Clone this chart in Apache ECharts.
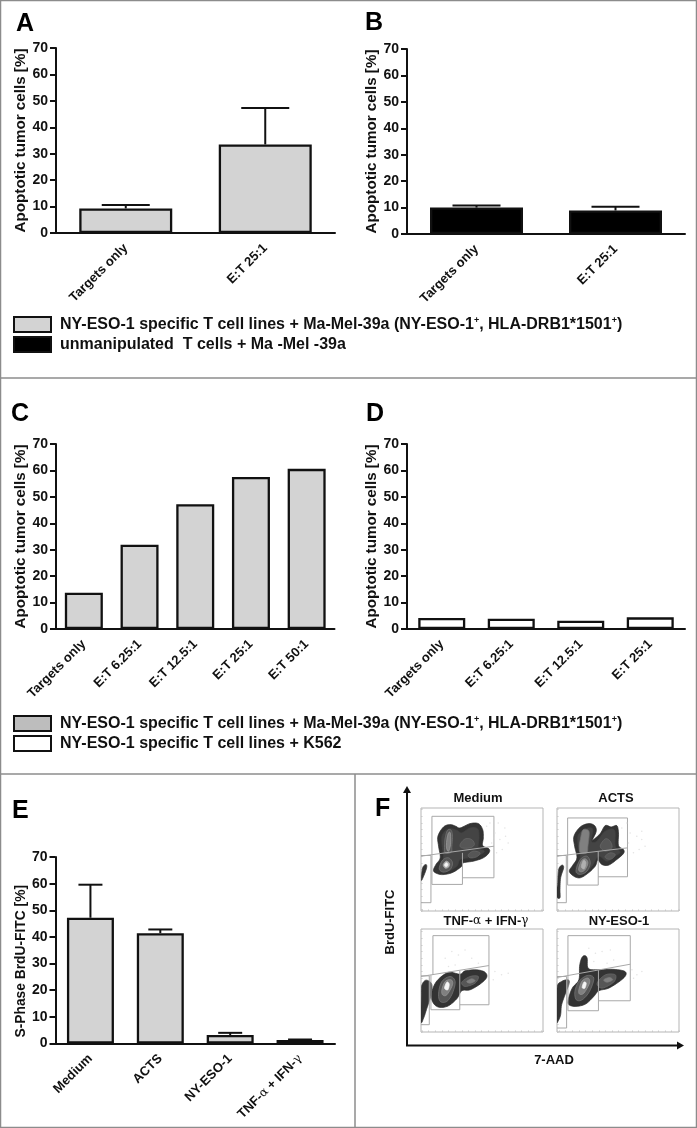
<!DOCTYPE html>
<html><head><meta charset="utf-8">
<style>html,body{margin:0;padding:0;background:#fff}#c{width:697px;height:1128px}</style>
<script src="https://cdn.jsdelivr.net/npm/echarts@6/dist/echarts.min.js"></script>
</head><body><div id="c"></div>
<script>
// ---------- bar data ----------
const catsAB = ['Targets only', 'E:T 25:1'];
const catsC = ['Targets only', 'E:T 6.25:1', 'E:T 12.5:1', 'E:T 25:1', 'E:T 50:1'];
const catsD = ['Targets only', 'E:T 6.25:1', 'E:T 12.5:1', 'E:T 25:1'];
const catsE = ['Medium', 'ACTS', 'NY-ESO-1', 'TNF-α + IFN-γ'];
const valA = [9.3, 33.5];
const errA = [10.6, 47.3];
const valB = [10, 8.9];
const errB = [10.8, 10.3];
const valC = [13.7, 31.9, 47.2, 57.5, 60.6];
const valD = [4.2, 3.9, 3.1, 4.4];
const valE = [47.2, 41.4, 3.2, 1.3];
const errE = [59.6, 42.8, 4.0, 1.5];
const yTitleApoptosis = 'Apoptotic tumor cells [%]';
const yTitleSPhase = 'S-Phase BrdU-FITC [%]';
const nameSpecificMel = 'NY-ESO-1 specific T cell lines + Ma-Mel-39a (NY-ESO-1+, HLA-DRB1*1501+)';
const nameUnmanipulated = 'unmanipulated  T cells + Ma -Mel -39a';
const nameSpecificK562 = 'NY-ESO-1 specific T cell lines + K562';

// ---------- flow cytometry contours (7-AAD channel, BrdU channel) ----------
const medOuter = [[55,205],[62,185],[75,165],[70,130],[68,100],[85,72],[105,65],[122,70],[135,75],[165,62],[190,62],[203,80],[205,105],[203,128],[222,138],[222,150],[205,165],[175,175],[145,180],[140,190],[120,205],[100,213],[75,215]];
const medBody = [[78,190],[85,165],[80,120],[82,95],[100,78],[125,82],[140,90],[165,75],[188,78],[192,105],[190,135],[208,145],[190,158],[160,165],[135,170],[125,190],[100,203]];
const medRing = [[72,198],[82,172],[100,165],[112,180],[105,200],[85,208]];
const medStreak = [[90,105],[97,82],[108,82],[112,100],[110,130],[108,148],[90,150],[88,125]];
const medStreak2 = [[95,110],[100,90],[106,92],[106,125],[100,145],[94,135]];
const medLumpA = [[135,125],[150,108],[170,110],[178,125],[165,135],[140,135]];
const medLumpB = [[160,155],[175,145],[195,150],[185,162],[165,165]];
const medSpot = [[84,186],[93,175],[103,182],[100,193],[90,196]];
const medCore = [[88,186],[93,180],[98,184],[96,190],[91,191]];
const medLeft = [[18,232],[22,195],[32,185],[34,195],[25,220]];
const medDots = [[215,70],[240,90],[255,110],[270,75],[230,120],[262,140],[245,150],[280,120],[225,60],[250,60],[272,100],[238,105]];

const actOuter = [[52,205],[62,188],[75,165],[68,130],[66,100],[85,72],[110,62],[128,68],[133,85],[122,110],[125,110],[145,92],[160,68],[178,72],[195,68],[200,90],[200,128],[215,140],[215,152],[195,170],[170,187],[150,185],[138,172],[130,190],[110,210],[85,225],[65,220]];
const actBody = [[72,195],[85,165],[78,120],[80,95],[100,78],[122,78],[118,115],[135,115],[160,85],[188,82],[190,130],[205,148],[185,162],[165,175],[140,160],[120,190],[95,212]];
const actRing = [[72,205],[85,170],[105,160],[115,180],[105,205],[85,215]];
const actStreak = [[85,110],[92,82],[105,80],[112,90],[108,130],[105,150],[85,150],[82,130]];
const actLumpA = [[145,130],[160,108],[175,115],[180,135],[160,145]];
const actLumpB = [[160,160],[175,150],[190,155],[180,168],[165,168]];
const actSpot = [[80,200],[88,175],[100,168],[108,180],[100,200],[88,207]];
const actCore = [[88,192],[95,172],[102,180],[97,198]];
const actLeft = [[17,245],[20,200],[30,187],[35,195],[26,225],[24,260],[24,285],[15,283],[15,255]];
const actDots = [[210,75],[235,90],[255,100],[270,85],[230,120],[262,140],[245,150],[280,130],[225,60],[270,110]];

const tnfOuter = [[50,200],[62,172],[85,150],[105,142],[135,148],[150,138],[185,135],[210,142],[215,158],[195,178],[165,195],[140,198],[125,222],[100,243],[75,248],[58,240],[48,220]];
const tnfLeft = [[17,290],[18,210],[20,180],[32,166],[48,175],[50,195],[45,220],[35,250],[25,280]];
const tnfMid = [[70,205],[80,170],[105,155],[120,170],[112,205],[95,230],[75,230]];
const tnfInner = [[80,195],[90,170],[108,165],[112,180],[95,210],[82,210]];
const tnfSpot = [[88,190],[95,172],[102,178],[98,195]];
const tnfLumpA = [[140,172],[165,155],[190,155],[180,175],[150,185]];
const tnfLumpB = [[155,170],[170,162],[180,168],[165,175]];
const tnfDots = [[90,100],[110,80],[130,90],[150,75],[170,100],[120,120],[100,125],[190,115],[240,140],[260,150],[280,145],[235,165]];

const nyOuter = [[48,225],[60,190],[80,165],[82,125],[88,100],[97,92],[105,100],[108,130],[135,135],[175,133],[215,138],[222,150],[205,168],[170,190],[140,198],[125,215],[100,238],[70,245],[50,240]];
const nyLeft = [[14,285],[14,190],[28,170],[48,165],[50,178],[40,205],[28,240],[25,270],[18,288]];
const nyMid = [[68,200],[80,170],[105,152],[125,160],[112,200],[90,225],[72,225]];
const nyInner = [[80,195],[90,168],[108,160],[112,175],[95,205],[82,208]];
const nySpot = [[90,188],[95,172],[102,175],[98,190]];
const nyLumpA = [[135,175],[160,150],[190,150],[185,172],[150,190]];
const nyLumpB = [[155,165],[172,158],[182,165],[165,172]];
const nyDots = [[110,70],[130,85],[150,80],[175,75],[185,105],[125,110],[165,115],[240,135],[255,150],[270,140],[245,160]];

// ---------- gates: polylines in the same channels ----------
const medGates = [[[50,158],[50,40],[237,40],[237,225],[142,225]], [[17,160],[237,130]], [[50,158],[50,245],[142,245],[142,150]], [[17,158],[47,158],[47,300],[17,300]]];
const actGates = [[[47,156],[47,45],[227,45],[227,222],[139,222]], [[15,160],[227,135]], [[47,156],[47,247],[139,247],[139,145]], [[15,158],[43,158],[43,300],[15,300]]];
const tnfGates = [[[53,150],[53,32],[222,32],[222,240],[134,240]], [[17,155],[222,122]], [[47,151],[47,255],[134,255],[134,138]], [[17,153],[42,153],[42,300],[17,300]]];
const nyGates = [[[47,152],[47,32],[235,32],[235,228],[139,228]], [[14,158],[235,118]], [[47,152],[47,258],[139,258],[139,136]], [[14,155],[43,155],[43,310],[14,310]]];

const FONT = '"Liberation Sans", Arial, sans-serif';
const INK = '#111';
const grids = [], xAxes = [], yAxes = [], series = [];

function tnfLabel(v) {
  return v.replace(/α/g, '{g|α}').replace(/γ/g, '{g|γ}');
}
function barPanel(o) {
  const i = grids.length;
  grids.push({left: o.x0, top: o.y70, width: o.x1 - o.x0, height: o.y0 - o.y70});
  xAxes.push({
    type: 'category', gridIndex: i, data: o.cats,
    axisLine: {lineStyle: {color: INK, width: 2}},
    axisTick: {alignWithLabel: true, length: 5, lineStyle: {color: INK, width: 2}},
    axisLabel: {rotate: 45, interval: 0, margin: 13, color: INK, fontFamily: FONT, fontWeight: 'bold', fontSize: 13,
      formatter: tnfLabel,
      rich: {g: {fontFamily: '"DejaVu Serif", serif', fontWeight: 'normal', fontSize: 12, color: INK}}}
  });
  yAxes.push({
    type: 'value', gridIndex: i, min: 0, max: 70, interval: 10,
    name: o.title, nameLocation: 'middle', nameGap: o.nameGap,
    nameTextStyle: {color: INK, fontFamily: FONT, fontWeight: 'bold', fontSize: o.nameSize, padding: o.namePad || 0},
    axisLine: {show: true, lineStyle: {color: INK, width: 2}},
    axisTick: {show: true, length: 6, lineStyle: {color: INK, width: 2}},
    axisLabel: {margin: 8, color: INK, fontFamily: FONT, fontWeight: 'bold', fontSize: 14},
    splitLine: {show: false}
  });
  series.push({
    type: 'bar', name: o.name, xAxisIndex: i, yAxisIndex: i, data: o.vals, barWidth: o.barW,
    itemStyle: {color: o.fill, borderColor: INK, borderWidth: 2.3}, silent: true
  });
  if (o.errs) {
    const capHalf = o.cap;
    series.push({
      type: 'custom', xAxisIndex: i, yAxisIndex: i, silent: true, z: 1,
      data: o.errs.map((e, k) => [k, e, o.vals[k]]),
      encode: {x: 0, y: 1},
      renderItem(params, api) {
        const top = api.coord([api.value(0), api.value(1)]);
        const base = api.coord([api.value(0), api.value(2)]);
        return {type: 'group', children: [
          {type: 'line', shape: {x1: top[0], y1: top[1], x2: base[0], y2: base[1]}, style: {stroke: INK, lineWidth: 2}},
          {type: 'line', shape: {x1: top[0] - capHalf, y1: top[1], x2: top[0] + capHalf, y2: top[1]}, style: {stroke: INK, lineWidth: 2}}
        ]};
      }
    });
  }
}
const GREY = '#d3d3d3';
barPanel({x0: 56, x1: 335, y70: 48, y0: 233, cats: catsAB, vals: valA, errs: errA, fill: GREY, barW: 93, cap: 24, title: yTitleApoptosis, name: nameSpecificMel, nameGap: 27, nameSize: 15.2});
barPanel({x0: 407, x1: 685, y70: 49, y0: 234, cats: catsAB, vals: valB, errs: errB, fill: '#000', barW: 93, cap: 24, title: yTitleApoptosis, name: nameUnmanipulated, nameGap: 27, nameSize: 15.2});
barPanel({x0: 56, x1: 334.5, y70: 444, y0: 629, cats: catsC, vals: valC, fill: GREY, barW: 38, title: yTitleApoptosis, name: nameSpecificMel, nameGap: 27, nameSize: 15.2});
barPanel({x0: 407, x1: 685, y70: 444, y0: 629, cats: catsD, vals: valD, fill: '#fff', barW: 47, title: yTitleApoptosis, name: nameSpecificK562, nameGap: 27, nameSize: 15.2});
barPanel({x0: 55.5, x1: 335, y70: 857, y0: 1043.5, cats: catsE, vals: valE, errs: errE, fill: GREY, barW: 47, cap: 12, title: yTitleSPhase, name: 'S-Phase', nameGap: 27, nameSize: 13.8, namePad: [0, 22, 0, 0]});

// ---------- flow panels ----------
// closed Catmull-Rom outline through the points (drawing only, in pixel space)
function spline(p) {
  const n = p.length, out = [];
  for (let i = 0; i < n; i++) {
    const a = p[(i + n - 1) % n], b = p[i], c = p[(i + 1) % n], d = p[(i + 2) % n];
    for (let k = 0; k < 6; k++) {
      const t = k / 6, t2 = t * t, t3 = t2 * t;
      out.push([0, 1].map(j => 0.5 * (2 * b[j] + (c[j] - a[j]) * t + (2 * a[j] - 5 * b[j] + 4 * c[j] - d[j]) * t2 + (3 * b[j] - a[j] - 3 * c[j] + d[j]) * t3)));
    }
  }
  return out;
}
function shape(i, pts, fill, stroke) {
  series.push({
    type: 'custom', xAxisIndex: i, yAxisIndex: i, silent: true, clip: true, data: pts, encode: {x: 0, y: 1},
    renderItem(params, api) {
      if (params.dataIndex > 0) return null;
      return {type: 'polygon', shape: {points: spline(pts.map(p => api.coord(p)))},
        style: {fill, stroke: stroke || fill, lineWidth: 0.7}};
    }
  });
}
function flowPanel(o) {
  const i = grids.length;
  grids.push({left: o.left, top: o.top, width: 122, height: 103, show: true, borderColor: '#b5b5b5', borderWidth: 1, backgroundColor: '#fff'});
  const ax = (ext, inv) => ({
    type: 'value', gridIndex: i, min: ext[0], max: ext[1], inverse: inv, splitNumber: 20,
    axisLine: {show: false}, axisLabel: {show: false}, splitLine: {show: false},
    axisTick: {show: true, inside: true, length: 1.5, lineStyle: {color: '#c8c8c8', width: 1}}
  });
  xAxes.push(ax(o.xr, false));
  yAxes.push(ax(o.yr, true));
  series.push({type: 'scatter', xAxisIndex: i, yAxisIndex: i, silent: true, data: o.dots, symbolSize: 1.5, itemStyle: {color: '#dcdcdc'}});
  o.layers.forEach(l => shape(i, l[0], l[1], l[2]));
  o.gates.forEach(g => series.push({
    type: 'custom', xAxisIndex: i, yAxisIndex: i, silent: true, clip: true, data: g, encode: {x: 0, y: 1},
    renderItem(params, api) {
      if (params.dataIndex > 0) return null;
      return {type: 'polyline', shape: {points: g.map(p => api.coord(p))}, style: {fill: 'none', stroke: '#a8a8a8', lineWidth: 1}};
    }
  }));
}
const D1 = '#333333', D1B = '#444444', D2 = '#565656', D3 = '#808080', D4 = '#b0b0b0', W = '#f5f5f5';
flowPanel({left: 421, top: 808, xr: [17, 385], yr: [15, 325], dots: medDots, gates: medGates, layers: [
  [medOuter, D1, '#2a2a2a'], [medBody, D1B], [medLeft, D1], [medLumpA, D2, '#6a6a6a'], [medLumpB, D2, '#6a6a6a'],
  [medStreak, D2, '#777'], [medStreak2, D3, '#a0a0a0'], [medRing, D2, '#777'], [medSpot, D4], [medCore, W]]});
flowPanel({left: 557, top: 808, xr: [15, 382], yr: [15, 325], dots: actDots, gates: actGates, layers: [
  [actOuter, D1, '#2a2a2a'], [actBody, D1B], [actLeft, D1], [actLumpA, D2, '#6a6a6a'], [actLumpB, D2, '#6a6a6a'],
  [actStreak, D3, '#707070'], [actRing, D2, '#777'], [actSpot, D3, '#9a9a9a'], [actCore, D4]]});
flowPanel({left: 421, top: 929, xr: [17, 385], yr: [12, 322], dots: tnfDots, gates: tnfGates, layers: [
  [tnfOuter, D1, '#2a2a2a'], [tnfLeft, D1], [tnfLumpA, D2, '#6a6a6a'], [tnfLumpB, D3],
  [tnfMid, D2, '#777'], [tnfInner, D3, '#9a9a9a'], [tnfSpot, W]]});
flowPanel({left: 557, top: 929, xr: [14, 382], yr: [12, 322], dots: nyDots, gates: nyGates, layers: [
  [nyOuter, D1, '#2a2a2a'], [nyLeft, D1], [nyLumpA, D2, '#6a6a6a'], [nyLumpB, D3],
  [nyMid, D2, '#777'], [nyInner, D3, '#9a9a9a'], [nySpot, W]]});

// ---------- legends ----------
const legendRich = {
  t: {fontFamily: FONT, fontWeight: 'bold', fontSize: 16, color: INK},
  s: {fontFamily: FONT, fontWeight: 'bold', fontSize: 9, color: INK, verticalAlign: 'top', padding: [0, 0, 7, 0]}
};
function legendText(n) {
  return n.split(/\+(?=[,)])/).map(p => '{t|' + p + '}').join('{s|+}');
}
function legend(left, top, items) {
  return {
    left, top, orient: 'vertical', selectedMode: false, itemWidth: 37, itemHeight: 15, itemGap: 3, padding: 0, icon: 'rect',
    data: items.map(it => ({name: it[0], itemStyle: {color: it[1], borderColor: INK, borderWidth: 2}})),
    formatter: legendText,
    textStyle: {fontFamily: FONT, fontWeight: 'bold', fontSize: 16, color: INK, padding: [0, 0, 0, 4], rich: legendRich}
  };
}

// ---------- panel letters ----------
const letters = [['A', 16, 12], ['B', 365, 11], ['C', 11, 402], ['D', 366, 402], ['E', 12, 799], ['F', 375, 797]];
const titles = letters.map(l => ({text: l[0], left: l[1], top: l[2], padding: 0,
  textStyle: {fontFamily: FONT, fontWeight: 'bold', fontSize: 25, color: '#000'}}));

// ---------- free text and frame ----------
const flowTitleStyle = {fontFamily: FONT, fontWeight: 'bold', fontSize: 13, fill: INK, textAlign: 'center', textVerticalAlign: 'middle'};
const flowText = (text, x, y, rot) => ({type: 'text', x, y, rotation: rot || 0, style: Object.assign({text}, flowTitleStyle)});
const rule = (x1, y1, x2, y2, c, w) => ({type: 'line', shape: {x1, y1, x2, y2}, style: {stroke: c, lineWidth: w}});
const PANEL = '#8c8c8c';
const graphic = [
  {type: 'rect', shape: {x: 0.5, y: 0.5, width: 696, height: 1127}, style: {fill: 'none', stroke: PANEL, lineWidth: 1.5}},
  rule(0, 378, 697, 378, PANEL, 1.5), rule(0, 774, 697, 774, PANEL, 1.5), rule(355, 774, 355, 1128, PANEL, 1.5),
  flowText('Medium', 478, 798), flowText('ACTS', 616, 798),
  {type: 'text', x: 486, y: 921, style: {
    text: '{b|TNF-}{g|α}{b| + IFN-}{g|γ}', textAlign: 'center', textVerticalAlign: 'middle',
    rich: {b: {fontFamily: FONT, fontWeight: 'bold', fontSize: 13, fill: INK},
           g: {fontFamily: '"DejaVu Serif", serif', fontSize: 12, fill: INK}}}},
  flowText('NY-ESO-1', 619, 921),
  flowText('BrdU-FITC', 390, 922, Math.PI / 2), flowText('7-AAD', 554, 1060),
  {type: 'polyline', shape: {points: [[407, 792], [407, 1045.5], [678, 1045.5]]}, style: {fill: 'none', stroke: INK, lineWidth: 2}},
  {type: 'polygon', shape: {points: [[407, 786], [403, 793], [411, 793]]}, style: {fill: INK}},
  {type: 'polygon', shape: {points: [[684, 1045.5], [677, 1041.5], [677, 1049.5]]}, style: {fill: INK}}
];

const chart = echarts.init(document.getElementById('c'), null, {renderer: 'canvas'});
chart.setOption({
  animation: false, backgroundColor: '#fff', tooltip: {show: false},
  title: titles, grid: grids, xAxis: xAxes, yAxis: yAxes, series, graphic,
  legend: [
    legend(13, 316, [[nameSpecificMel, GREY], [nameUnmanipulated, '#000']]),
    legend(13, 715, [[nameSpecificMel, '#bdbdbd'], [nameSpecificK562, '#fff']])
  ]
});
</script></body></html>
